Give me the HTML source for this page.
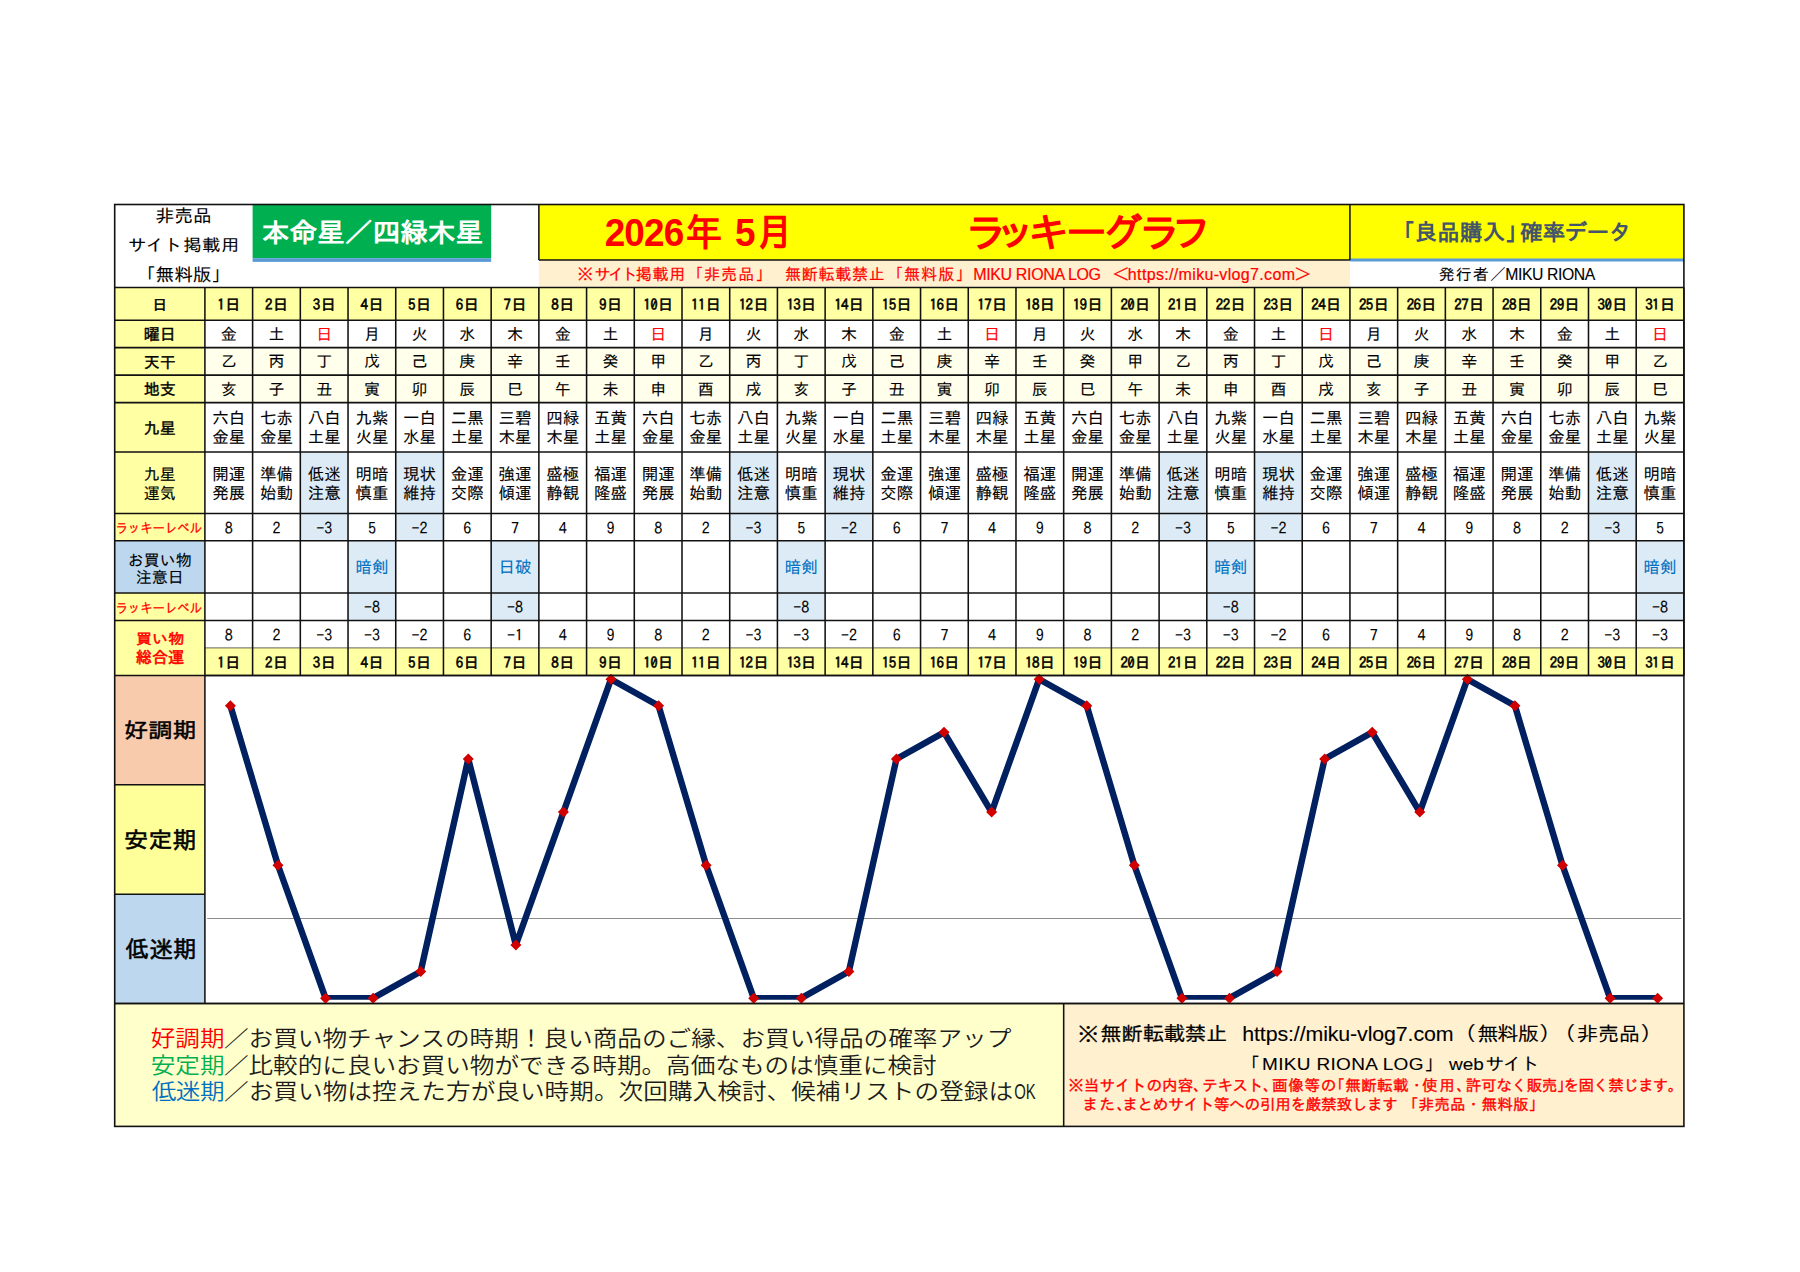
<!DOCTYPE html>
<html lang="ja">
<head>
<meta charset="utf-8">
<title>2026年 5月 ラッキーグラフ</title>
<style>
html,body{margin:0;padding:0;background:#fff;}
svg{display:block;}
text{font-family:"Liberation Sans","IPAGothic",sans-serif;white-space:pre;}
.rf{font-family:"Liberation Sans","Noto Sans CJK JP",sans-serif;font-weight:350;}
.n{font-family:"IPAGothic","Liberation Sans",sans-serif;}
</style>
</head>
<body>
<svg width="1800" height="1272" viewBox="0 0 1800 1272" xml:space="preserve">
<rect x="252.61" y="204.50" width="238.55" height="53.70" fill="#00b050"/>
<rect x="252.61" y="258.20" width="238.55" height="3.70" fill="#5b9bd5"/>
<rect x="538.87" y="204.50" width="1145.04" height="55.50" fill="#ffff00"/>
<rect x="538.87" y="260.00" width="811.07" height="27.40" fill="#fff0d0"/>
<rect x="1349.94" y="258.50" width="333.97" height="3.00" fill="#5b9bd5"/>
<rect x="114.70" y="287.40" width="90.20" height="253.40" fill="#ffffa3"/>
<rect x="114.70" y="540.80" width="90.20" height="52.10" fill="#bdd7ee"/>
<rect x="114.70" y="592.90" width="90.20" height="82.50" fill="#ffffa3"/>
<rect x="204.90" y="287.40" width="1479.01" height="32.90" fill="#ffffa3"/>
<rect x="204.90" y="347.60" width="1479.01" height="55.00" fill="#ffffeb"/>
<rect x="204.90" y="647.90" width="1479.01" height="27.50" fill="#ffffa3"/>
<rect x="114.70" y="675.40" width="90.20" height="109.40" fill="#f8cbad"/>
<rect x="114.70" y="784.80" width="90.20" height="109.50" fill="#ffff99"/>
<rect x="114.70" y="894.30" width="90.20" height="109.10" fill="#bdd7ee"/>
<rect x="114.70" y="1003.40" width="948.98" height="123.00" fill="#ffffcc"/>
<rect x="1063.68" y="1003.40" width="620.23" height="123.00" fill="#fff0d0"/>
<rect x="300.32" y="451.90" width="47.71" height="88.90" fill="#ddebf7"/>
<rect x="348.03" y="540.80" width="47.71" height="79.60" fill="#ddebf7"/>
<rect x="395.74" y="451.90" width="47.71" height="88.90" fill="#ddebf7"/>
<rect x="491.16" y="540.80" width="47.71" height="79.60" fill="#ddebf7"/>
<rect x="729.71" y="451.90" width="47.71" height="88.90" fill="#ddebf7"/>
<rect x="777.42" y="540.80" width="47.71" height="79.60" fill="#ddebf7"/>
<rect x="825.13" y="451.90" width="47.71" height="88.90" fill="#ddebf7"/>
<rect x="1159.10" y="451.90" width="47.71" height="88.90" fill="#ddebf7"/>
<rect x="1206.81" y="540.80" width="47.71" height="79.60" fill="#ddebf7"/>
<rect x="1254.52" y="451.90" width="47.71" height="88.90" fill="#ddebf7"/>
<rect x="1588.49" y="451.90" width="47.71" height="88.90" fill="#ddebf7"/>
<rect x="1636.20" y="540.80" width="47.71" height="79.60" fill="#ddebf7"/>
<line x1="114.70" y1="287.40" x2="1683.91" y2="287.40" stroke="#111" stroke-width="1.55"/>
<line x1="114.70" y1="320.30" x2="1683.91" y2="320.30" stroke="#111" stroke-width="1.55"/>
<line x1="114.70" y1="347.60" x2="1683.91" y2="347.60" stroke="#111" stroke-width="1.55"/>
<line x1="114.70" y1="375.10" x2="1683.91" y2="375.10" stroke="#111" stroke-width="1.55"/>
<line x1="114.70" y1="402.60" x2="1683.91" y2="402.60" stroke="#111" stroke-width="1.55"/>
<line x1="114.70" y1="451.90" x2="1683.91" y2="451.90" stroke="#111" stroke-width="1.55"/>
<line x1="114.70" y1="513.50" x2="1683.91" y2="513.50" stroke="#111" stroke-width="1.55"/>
<line x1="114.70" y1="540.80" x2="1683.91" y2="540.80" stroke="#111" stroke-width="1.55"/>
<line x1="114.70" y1="592.90" x2="1683.91" y2="592.90" stroke="#111" stroke-width="1.55"/>
<line x1="114.70" y1="620.40" x2="1683.91" y2="620.40" stroke="#111" stroke-width="1.55"/>
<line x1="114.70" y1="675.40" x2="1683.91" y2="675.40" stroke="#111" stroke-width="1.55"/>
<line x1="204.90" y1="287.40" x2="204.90" y2="675.40" stroke="#111" stroke-width="1.55"/>
<line x1="252.61" y1="287.40" x2="252.61" y2="675.40" stroke="#111" stroke-width="1.55"/>
<line x1="300.32" y1="287.40" x2="300.32" y2="675.40" stroke="#111" stroke-width="1.55"/>
<line x1="348.03" y1="287.40" x2="348.03" y2="675.40" stroke="#111" stroke-width="1.55"/>
<line x1="395.74" y1="287.40" x2="395.74" y2="675.40" stroke="#111" stroke-width="1.55"/>
<line x1="443.45" y1="287.40" x2="443.45" y2="675.40" stroke="#111" stroke-width="1.55"/>
<line x1="491.16" y1="287.40" x2="491.16" y2="675.40" stroke="#111" stroke-width="1.55"/>
<line x1="538.87" y1="287.40" x2="538.87" y2="675.40" stroke="#111" stroke-width="1.55"/>
<line x1="586.58" y1="287.40" x2="586.58" y2="675.40" stroke="#111" stroke-width="1.55"/>
<line x1="634.29" y1="287.40" x2="634.29" y2="675.40" stroke="#111" stroke-width="1.55"/>
<line x1="682.00" y1="287.40" x2="682.00" y2="675.40" stroke="#111" stroke-width="1.55"/>
<line x1="729.71" y1="287.40" x2="729.71" y2="675.40" stroke="#111" stroke-width="1.55"/>
<line x1="777.42" y1="287.40" x2="777.42" y2="675.40" stroke="#111" stroke-width="1.55"/>
<line x1="825.13" y1="287.40" x2="825.13" y2="675.40" stroke="#111" stroke-width="1.55"/>
<line x1="872.84" y1="287.40" x2="872.84" y2="675.40" stroke="#111" stroke-width="1.55"/>
<line x1="920.55" y1="287.40" x2="920.55" y2="675.40" stroke="#111" stroke-width="1.55"/>
<line x1="968.26" y1="287.40" x2="968.26" y2="675.40" stroke="#111" stroke-width="1.55"/>
<line x1="1015.97" y1="287.40" x2="1015.97" y2="675.40" stroke="#111" stroke-width="1.55"/>
<line x1="1063.68" y1="287.40" x2="1063.68" y2="675.40" stroke="#111" stroke-width="1.55"/>
<line x1="1111.39" y1="287.40" x2="1111.39" y2="675.40" stroke="#111" stroke-width="1.55"/>
<line x1="1159.10" y1="287.40" x2="1159.10" y2="675.40" stroke="#111" stroke-width="1.55"/>
<line x1="1206.81" y1="287.40" x2="1206.81" y2="675.40" stroke="#111" stroke-width="1.55"/>
<line x1="1254.52" y1="287.40" x2="1254.52" y2="675.40" stroke="#111" stroke-width="1.55"/>
<line x1="1302.23" y1="287.40" x2="1302.23" y2="675.40" stroke="#111" stroke-width="1.55"/>
<line x1="1349.94" y1="287.40" x2="1349.94" y2="675.40" stroke="#111" stroke-width="1.55"/>
<line x1="1397.65" y1="287.40" x2="1397.65" y2="675.40" stroke="#111" stroke-width="1.55"/>
<line x1="1445.36" y1="287.40" x2="1445.36" y2="675.40" stroke="#111" stroke-width="1.55"/>
<line x1="1493.07" y1="287.40" x2="1493.07" y2="675.40" stroke="#111" stroke-width="1.55"/>
<line x1="1540.78" y1="287.40" x2="1540.78" y2="675.40" stroke="#111" stroke-width="1.55"/>
<line x1="1588.49" y1="287.40" x2="1588.49" y2="675.40" stroke="#111" stroke-width="1.55"/>
<line x1="1636.20" y1="287.40" x2="1636.20" y2="675.40" stroke="#111" stroke-width="1.55"/>
<line x1="1683.91" y1="287.40" x2="1683.91" y2="675.40" stroke="#111" stroke-width="1.55"/>
<line x1="204.90" y1="647.90" x2="1683.91" y2="647.90" stroke="#222" stroke-width="0.7"/>
<line x1="114.70" y1="784.80" x2="204.90" y2="784.80" stroke="#111" stroke-width="1.55"/>
<line x1="114.70" y1="894.30" x2="204.90" y2="894.30" stroke="#111" stroke-width="1.55"/>
<line x1="204.90" y1="675.40" x2="204.90" y2="1003.40" stroke="#111" stroke-width="1.55"/>
<line x1="114.70" y1="1003.40" x2="1683.91" y2="1003.40" stroke="#111" stroke-width="1.55"/>
<line x1="1063.68" y1="1003.40" x2="1063.68" y2="1126.40" stroke="#111" stroke-width="1.55"/>
<line x1="538.87" y1="204.50" x2="538.87" y2="260.00" stroke="#111" stroke-width="1.55"/>
<line x1="538.87" y1="260.00" x2="1349.94" y2="260.00" stroke="#111" stroke-width="1.55"/>
<line x1="1349.94" y1="204.50" x2="1349.94" y2="260.00" stroke="#111" stroke-width="1.55"/>
<rect x="114.70" y="204.50" width="1569.21" height="921.90" fill="none" stroke="#111" stroke-width="1.6"/>
<line x1="207.20" y1="918.50" x2="1681.30" y2="918.50" stroke="#8c8c8c" stroke-width="1.2"/>
<clipPath id="pc"><rect x="205" y="676" width="1478" height="323.8"/></clipPath>
<polyline points="230.40,705.76 277.98,865.24 325.55,998.14 373.12,998.14 420.70,971.56 468.27,758.92 515.85,944.98 563.43,812.08 611.00,679.18 658.58,705.76 706.15,865.24 753.73,998.14 801.30,998.14 848.88,971.56 896.45,758.92 944.02,732.34 991.60,812.08 1039.18,679.18 1086.75,705.76 1134.33,865.24 1181.90,998.14 1229.48,998.14 1277.05,971.56 1324.63,758.92 1372.20,732.34 1419.78,812.08 1467.35,679.18 1514.93,705.76 1562.50,865.24 1610.08,998.14 1657.65,998.14" fill="none" stroke="#002060" stroke-width="6.4" stroke-linejoin="round" clip-path="url(#pc)"/>
<path d="M230.40 700.26l5.5 5.5l-5.5 5.5l-5.5 -5.5zM277.98 859.74l5.5 5.5l-5.5 5.5l-5.5 -5.5zM325.55 992.64l5.5 5.5l-5.5 5.5l-5.5 -5.5zM373.12 992.64l5.5 5.5l-5.5 5.5l-5.5 -5.5zM420.70 966.06l5.5 5.5l-5.5 5.5l-5.5 -5.5zM468.27 753.42l5.5 5.5l-5.5 5.5l-5.5 -5.5zM515.85 939.48l5.5 5.5l-5.5 5.5l-5.5 -5.5zM563.43 806.58l5.5 5.5l-5.5 5.5l-5.5 -5.5zM611.00 673.68l5.5 5.5l-5.5 5.5l-5.5 -5.5zM658.58 700.26l5.5 5.5l-5.5 5.5l-5.5 -5.5zM706.15 859.74l5.5 5.5l-5.5 5.5l-5.5 -5.5zM753.73 992.64l5.5 5.5l-5.5 5.5l-5.5 -5.5zM801.30 992.64l5.5 5.5l-5.5 5.5l-5.5 -5.5zM848.88 966.06l5.5 5.5l-5.5 5.5l-5.5 -5.5zM896.45 753.42l5.5 5.5l-5.5 5.5l-5.5 -5.5zM944.02 726.84l5.5 5.5l-5.5 5.5l-5.5 -5.5zM991.60 806.58l5.5 5.5l-5.5 5.5l-5.5 -5.5zM1039.18 673.68l5.5 5.5l-5.5 5.5l-5.5 -5.5zM1086.75 700.26l5.5 5.5l-5.5 5.5l-5.5 -5.5zM1134.33 859.74l5.5 5.5l-5.5 5.5l-5.5 -5.5zM1181.90 992.64l5.5 5.5l-5.5 5.5l-5.5 -5.5zM1229.48 992.64l5.5 5.5l-5.5 5.5l-5.5 -5.5zM1277.05 966.06l5.5 5.5l-5.5 5.5l-5.5 -5.5zM1324.63 753.42l5.5 5.5l-5.5 5.5l-5.5 -5.5zM1372.20 726.84l5.5 5.5l-5.5 5.5l-5.5 -5.5zM1419.78 806.58l5.5 5.5l-5.5 5.5l-5.5 -5.5zM1467.35 673.68l5.5 5.5l-5.5 5.5l-5.5 -5.5zM1514.93 700.26l5.5 5.5l-5.5 5.5l-5.5 -5.5zM1562.50 859.74l5.5 5.5l-5.5 5.5l-5.5 -5.5zM1610.08 992.64l5.5 5.5l-5.5 5.5l-5.5 -5.5zM1657.65 992.64l5.5 5.5l-5.5 5.5l-5.5 -5.5z" fill="#d00000"/>
<line x1="114.70" y1="1003.40" x2="1683.91" y2="1003.40" stroke="#111" stroke-width="1.55"/>
<line x1="204.90" y1="675.40" x2="1683.91" y2="675.40" stroke="#111" stroke-width="1.55"/>
<text x="159.80" y="309.77" text-anchor="middle" font-size="14.5" stroke="#000" stroke-width="0.5">日</text>
<text x="159.80" y="340.21" text-anchor="middle" font-size="16" stroke="#000" stroke-width="0.4">曜日</text>
<text x="159.80" y="367.61" text-anchor="middle" font-size="16" stroke="#000" stroke-width="0.4">天干</text>
<text x="159.80" y="395.11" text-anchor="middle" font-size="16" stroke="#000" stroke-width="0.4">地支</text>
<text x="159.80" y="433.51" text-anchor="middle" font-size="16" stroke="#000" stroke-width="0.4">九星</text>
<text text-anchor="middle" font-size="16" stroke="#000" stroke-width="0.1"><tspan x="159.80" y="479.76">九星</tspan><tspan x="159.80" y="499.16">運気</tspan></text>
<text text-anchor="middle" font-size="16" stroke="#000" stroke-width="0.1"><tspan x="159.80" y="565.56">お買い物</tspan><tspan x="159.80" y="583.06">注意日</tspan></text>
<text class="n" x="228.75" y="309.95" text-anchor="middle" font-size="15" stroke="#000" stroke-width="0.55" dx="0 0.5">1日</text>
<text class="n" x="276.47" y="309.95" text-anchor="middle" font-size="15" stroke="#000" stroke-width="0.55" dx="0 0.5">2日</text>
<text class="n" x="324.18" y="309.95" text-anchor="middle" font-size="15" stroke="#000" stroke-width="0.55" dx="0 0.5">3日</text>
<text class="n" x="371.88" y="309.95" text-anchor="middle" font-size="15" stroke="#000" stroke-width="0.55" dx="0 0.5">4日</text>
<text class="n" x="419.60" y="309.95" text-anchor="middle" font-size="15" stroke="#000" stroke-width="0.55" dx="0 0.5">5日</text>
<text class="n" x="467.31" y="309.95" text-anchor="middle" font-size="15" stroke="#000" stroke-width="0.55" dx="0 0.5">6日</text>
<text class="n" x="515.01" y="309.95" text-anchor="middle" font-size="15" stroke="#000" stroke-width="0.55" dx="0 0.5">7日</text>
<text class="n" x="562.73" y="309.95" text-anchor="middle" font-size="15" stroke="#000" stroke-width="0.55" dx="0 0.5">8日</text>
<text class="n" x="610.44" y="309.95" text-anchor="middle" font-size="15" stroke="#000" stroke-width="0.55" dx="0 0.5">9日</text>
<text class="n" x="658.14" y="309.95" text-anchor="middle" font-size="15" stroke="#000" stroke-width="0.55" dx="0 -0.6 0.3">10日</text>
<text class="n" x="705.86" y="309.95" text-anchor="middle" font-size="15" stroke="#000" stroke-width="0.55" dx="0 -0.6 0.3">11日</text>
<text class="n" x="753.57" y="309.95" text-anchor="middle" font-size="15" stroke="#000" stroke-width="0.55" dx="0 -0.6 0.3">12日</text>
<text class="n" x="801.27" y="309.95" text-anchor="middle" font-size="15" stroke="#000" stroke-width="0.55" dx="0 -0.6 0.3">13日</text>
<text class="n" x="848.99" y="309.95" text-anchor="middle" font-size="15" stroke="#000" stroke-width="0.55" dx="0 -0.6 0.3">14日</text>
<text class="n" x="896.70" y="309.95" text-anchor="middle" font-size="15" stroke="#000" stroke-width="0.55" dx="0 -0.6 0.3">15日</text>
<text class="n" x="944.40" y="309.95" text-anchor="middle" font-size="15" stroke="#000" stroke-width="0.55" dx="0 -0.6 0.3">16日</text>
<text class="n" x="992.12" y="309.95" text-anchor="middle" font-size="15" stroke="#000" stroke-width="0.55" dx="0 -0.6 0.3">17日</text>
<text class="n" x="1039.83" y="309.95" text-anchor="middle" font-size="15" stroke="#000" stroke-width="0.55" dx="0 -0.6 0.3">18日</text>
<text class="n" x="1087.54" y="309.95" text-anchor="middle" font-size="15" stroke="#000" stroke-width="0.55" dx="0 -0.6 0.3">19日</text>
<text class="n" x="1135.25" y="309.95" text-anchor="middle" font-size="15" stroke="#000" stroke-width="0.55" dx="0 -0.6 0.3">20日</text>
<text class="n" x="1182.96" y="309.95" text-anchor="middle" font-size="15" stroke="#000" stroke-width="0.55" dx="0 -0.6 0.3">21日</text>
<text class="n" x="1230.66" y="309.95" text-anchor="middle" font-size="15" stroke="#000" stroke-width="0.55" dx="0 -0.6 0.3">22日</text>
<text class="n" x="1278.38" y="309.95" text-anchor="middle" font-size="15" stroke="#000" stroke-width="0.55" dx="0 -0.6 0.3">23日</text>
<text class="n" x="1326.09" y="309.95" text-anchor="middle" font-size="15" stroke="#000" stroke-width="0.55" dx="0 -0.6 0.3">24日</text>
<text class="n" x="1373.80" y="309.95" text-anchor="middle" font-size="15" stroke="#000" stroke-width="0.55" dx="0 -0.6 0.3">25日</text>
<text class="n" x="1421.51" y="309.95" text-anchor="middle" font-size="15" stroke="#000" stroke-width="0.55" dx="0 -0.6 0.3">26日</text>
<text class="n" x="1469.22" y="309.95" text-anchor="middle" font-size="15" stroke="#000" stroke-width="0.55" dx="0 -0.6 0.3">27日</text>
<text class="n" x="1516.93" y="309.95" text-anchor="middle" font-size="15" stroke="#000" stroke-width="0.55" dx="0 -0.6 0.3">28日</text>
<text class="n" x="1564.64" y="309.95" text-anchor="middle" font-size="15" stroke="#000" stroke-width="0.55" dx="0 -0.6 0.3">29日</text>
<text class="n" x="1612.35" y="309.95" text-anchor="middle" font-size="15" stroke="#000" stroke-width="0.55" dx="0 -0.6 0.3">30日</text>
<text class="n" x="1660.06" y="309.95" text-anchor="middle" font-size="15" stroke="#000" stroke-width="0.55" dx="0 -0.6 0.3">31日</text>
<text x="228.75" y="340.01" text-anchor="middle" font-size="16" stroke="#000" stroke-width="0.1">金</text>
<text x="276.47" y="340.01" text-anchor="middle" font-size="16" stroke="#000" stroke-width="0.1">土</text>
<text x="324.18" y="340.01" text-anchor="middle" font-size="16" fill="#ff0000" stroke="#ff0000" stroke-width="0.1">日</text>
<text x="371.88" y="340.01" text-anchor="middle" font-size="16" stroke="#000" stroke-width="0.1">月</text>
<text x="419.60" y="340.01" text-anchor="middle" font-size="16" stroke="#000" stroke-width="0.1">火</text>
<text x="467.31" y="340.01" text-anchor="middle" font-size="16" stroke="#000" stroke-width="0.1">水</text>
<text x="515.01" y="340.01" text-anchor="middle" font-size="16" stroke="#000" stroke-width="0.1">木</text>
<text x="562.73" y="340.01" text-anchor="middle" font-size="16" stroke="#000" stroke-width="0.1">金</text>
<text x="610.44" y="340.01" text-anchor="middle" font-size="16" stroke="#000" stroke-width="0.1">土</text>
<text x="658.14" y="340.01" text-anchor="middle" font-size="16" fill="#ff0000" stroke="#ff0000" stroke-width="0.1">日</text>
<text x="705.86" y="340.01" text-anchor="middle" font-size="16" stroke="#000" stroke-width="0.1">月</text>
<text x="753.57" y="340.01" text-anchor="middle" font-size="16" stroke="#000" stroke-width="0.1">火</text>
<text x="801.27" y="340.01" text-anchor="middle" font-size="16" stroke="#000" stroke-width="0.1">水</text>
<text x="848.99" y="340.01" text-anchor="middle" font-size="16" stroke="#000" stroke-width="0.1">木</text>
<text x="896.70" y="340.01" text-anchor="middle" font-size="16" stroke="#000" stroke-width="0.1">金</text>
<text x="944.40" y="340.01" text-anchor="middle" font-size="16" stroke="#000" stroke-width="0.1">土</text>
<text x="992.12" y="340.01" text-anchor="middle" font-size="16" fill="#ff0000" stroke="#ff0000" stroke-width="0.1">日</text>
<text x="1039.83" y="340.01" text-anchor="middle" font-size="16" stroke="#000" stroke-width="0.1">月</text>
<text x="1087.54" y="340.01" text-anchor="middle" font-size="16" stroke="#000" stroke-width="0.1">火</text>
<text x="1135.25" y="340.01" text-anchor="middle" font-size="16" stroke="#000" stroke-width="0.1">水</text>
<text x="1182.96" y="340.01" text-anchor="middle" font-size="16" stroke="#000" stroke-width="0.1">木</text>
<text x="1230.66" y="340.01" text-anchor="middle" font-size="16" stroke="#000" stroke-width="0.1">金</text>
<text x="1278.38" y="340.01" text-anchor="middle" font-size="16" stroke="#000" stroke-width="0.1">土</text>
<text x="1326.09" y="340.01" text-anchor="middle" font-size="16" fill="#ff0000" stroke="#ff0000" stroke-width="0.1">日</text>
<text x="1373.80" y="340.01" text-anchor="middle" font-size="16" stroke="#000" stroke-width="0.1">月</text>
<text x="1421.51" y="340.01" text-anchor="middle" font-size="16" stroke="#000" stroke-width="0.1">火</text>
<text x="1469.22" y="340.01" text-anchor="middle" font-size="16" stroke="#000" stroke-width="0.1">水</text>
<text x="1516.93" y="340.01" text-anchor="middle" font-size="16" stroke="#000" stroke-width="0.1">木</text>
<text x="1564.64" y="340.01" text-anchor="middle" font-size="16" stroke="#000" stroke-width="0.1">金</text>
<text x="1612.35" y="340.01" text-anchor="middle" font-size="16" stroke="#000" stroke-width="0.1">土</text>
<text x="1660.06" y="340.01" text-anchor="middle" font-size="16" fill="#ff0000" stroke="#ff0000" stroke-width="0.1">日</text>
<text x="228.75" y="367.41" text-anchor="middle" font-size="16" stroke="#000" stroke-width="0.1">乙</text>
<text x="276.47" y="367.41" text-anchor="middle" font-size="16" stroke="#000" stroke-width="0.1">丙</text>
<text x="324.18" y="367.41" text-anchor="middle" font-size="16" stroke="#000" stroke-width="0.1">丁</text>
<text x="371.88" y="367.41" text-anchor="middle" font-size="16" stroke="#000" stroke-width="0.1">戊</text>
<text x="419.60" y="367.41" text-anchor="middle" font-size="16" stroke="#000" stroke-width="0.1">己</text>
<text x="467.31" y="367.41" text-anchor="middle" font-size="16" stroke="#000" stroke-width="0.1">庚</text>
<text x="515.01" y="367.41" text-anchor="middle" font-size="16" stroke="#000" stroke-width="0.1">辛</text>
<text x="562.73" y="367.41" text-anchor="middle" font-size="16" stroke="#000" stroke-width="0.1">壬</text>
<text x="610.44" y="367.41" text-anchor="middle" font-size="16" stroke="#000" stroke-width="0.1">癸</text>
<text x="658.14" y="367.41" text-anchor="middle" font-size="16" stroke="#000" stroke-width="0.1">甲</text>
<text x="705.86" y="367.41" text-anchor="middle" font-size="16" stroke="#000" stroke-width="0.1">乙</text>
<text x="753.57" y="367.41" text-anchor="middle" font-size="16" stroke="#000" stroke-width="0.1">丙</text>
<text x="801.27" y="367.41" text-anchor="middle" font-size="16" stroke="#000" stroke-width="0.1">丁</text>
<text x="848.99" y="367.41" text-anchor="middle" font-size="16" stroke="#000" stroke-width="0.1">戊</text>
<text x="896.70" y="367.41" text-anchor="middle" font-size="16" stroke="#000" stroke-width="0.1">己</text>
<text x="944.40" y="367.41" text-anchor="middle" font-size="16" stroke="#000" stroke-width="0.1">庚</text>
<text x="992.12" y="367.41" text-anchor="middle" font-size="16" stroke="#000" stroke-width="0.1">辛</text>
<text x="1039.83" y="367.41" text-anchor="middle" font-size="16" stroke="#000" stroke-width="0.1">壬</text>
<text x="1087.54" y="367.41" text-anchor="middle" font-size="16" stroke="#000" stroke-width="0.1">癸</text>
<text x="1135.25" y="367.41" text-anchor="middle" font-size="16" stroke="#000" stroke-width="0.1">甲</text>
<text x="1182.96" y="367.41" text-anchor="middle" font-size="16" stroke="#000" stroke-width="0.1">乙</text>
<text x="1230.66" y="367.41" text-anchor="middle" font-size="16" stroke="#000" stroke-width="0.1">丙</text>
<text x="1278.38" y="367.41" text-anchor="middle" font-size="16" stroke="#000" stroke-width="0.1">丁</text>
<text x="1326.09" y="367.41" text-anchor="middle" font-size="16" stroke="#000" stroke-width="0.1">戊</text>
<text x="1373.80" y="367.41" text-anchor="middle" font-size="16" stroke="#000" stroke-width="0.1">己</text>
<text x="1421.51" y="367.41" text-anchor="middle" font-size="16" stroke="#000" stroke-width="0.1">庚</text>
<text x="1469.22" y="367.41" text-anchor="middle" font-size="16" stroke="#000" stroke-width="0.1">辛</text>
<text x="1516.93" y="367.41" text-anchor="middle" font-size="16" stroke="#000" stroke-width="0.1">壬</text>
<text x="1564.64" y="367.41" text-anchor="middle" font-size="16" stroke="#000" stroke-width="0.1">癸</text>
<text x="1612.35" y="367.41" text-anchor="middle" font-size="16" stroke="#000" stroke-width="0.1">甲</text>
<text x="1660.06" y="367.41" text-anchor="middle" font-size="16" stroke="#000" stroke-width="0.1">乙</text>
<text x="228.75" y="394.91" text-anchor="middle" font-size="16" stroke="#000" stroke-width="0.1">亥</text>
<text x="276.47" y="394.91" text-anchor="middle" font-size="16" stroke="#000" stroke-width="0.1">子</text>
<text x="324.18" y="394.91" text-anchor="middle" font-size="16" stroke="#000" stroke-width="0.1">丑</text>
<text x="371.88" y="394.91" text-anchor="middle" font-size="16" stroke="#000" stroke-width="0.1">寅</text>
<text x="419.60" y="394.91" text-anchor="middle" font-size="16" stroke="#000" stroke-width="0.1">卯</text>
<text x="467.31" y="394.91" text-anchor="middle" font-size="16" stroke="#000" stroke-width="0.1">辰</text>
<text x="515.01" y="394.91" text-anchor="middle" font-size="16" stroke="#000" stroke-width="0.1">巳</text>
<text x="562.73" y="394.91" text-anchor="middle" font-size="16" stroke="#000" stroke-width="0.1">午</text>
<text x="610.44" y="394.91" text-anchor="middle" font-size="16" stroke="#000" stroke-width="0.1">未</text>
<text x="658.14" y="394.91" text-anchor="middle" font-size="16" stroke="#000" stroke-width="0.1">申</text>
<text x="705.86" y="394.91" text-anchor="middle" font-size="16" stroke="#000" stroke-width="0.1">酉</text>
<text x="753.57" y="394.91" text-anchor="middle" font-size="16" stroke="#000" stroke-width="0.1">戌</text>
<text x="801.27" y="394.91" text-anchor="middle" font-size="16" stroke="#000" stroke-width="0.1">亥</text>
<text x="848.99" y="394.91" text-anchor="middle" font-size="16" stroke="#000" stroke-width="0.1">子</text>
<text x="896.70" y="394.91" text-anchor="middle" font-size="16" stroke="#000" stroke-width="0.1">丑</text>
<text x="944.40" y="394.91" text-anchor="middle" font-size="16" stroke="#000" stroke-width="0.1">寅</text>
<text x="992.12" y="394.91" text-anchor="middle" font-size="16" stroke="#000" stroke-width="0.1">卯</text>
<text x="1039.83" y="394.91" text-anchor="middle" font-size="16" stroke="#000" stroke-width="0.1">辰</text>
<text x="1087.54" y="394.91" text-anchor="middle" font-size="16" stroke="#000" stroke-width="0.1">巳</text>
<text x="1135.25" y="394.91" text-anchor="middle" font-size="16" stroke="#000" stroke-width="0.1">午</text>
<text x="1182.96" y="394.91" text-anchor="middle" font-size="16" stroke="#000" stroke-width="0.1">未</text>
<text x="1230.66" y="394.91" text-anchor="middle" font-size="16" stroke="#000" stroke-width="0.1">申</text>
<text x="1278.38" y="394.91" text-anchor="middle" font-size="16" stroke="#000" stroke-width="0.1">酉</text>
<text x="1326.09" y="394.91" text-anchor="middle" font-size="16" stroke="#000" stroke-width="0.1">戌</text>
<text x="1373.80" y="394.91" text-anchor="middle" font-size="16" stroke="#000" stroke-width="0.1">亥</text>
<text x="1421.51" y="394.91" text-anchor="middle" font-size="16" stroke="#000" stroke-width="0.1">子</text>
<text x="1469.22" y="394.91" text-anchor="middle" font-size="16" stroke="#000" stroke-width="0.1">丑</text>
<text x="1516.93" y="394.91" text-anchor="middle" font-size="16" stroke="#000" stroke-width="0.1">寅</text>
<text x="1564.64" y="394.91" text-anchor="middle" font-size="16" stroke="#000" stroke-width="0.1">卯</text>
<text x="1612.35" y="394.91" text-anchor="middle" font-size="16" stroke="#000" stroke-width="0.1">辰</text>
<text x="1660.06" y="394.91" text-anchor="middle" font-size="16" stroke="#000" stroke-width="0.1">巳</text>
<text text-anchor="middle" font-size="16.5" stroke="#000" stroke-width="0.1"><tspan x="228.75" y="424.14">六白</tspan><tspan x="228.75" y="443.04">金星</tspan></text>
<text text-anchor="middle" font-size="16.5" stroke="#000" stroke-width="0.1"><tspan x="276.47" y="424.14">七赤</tspan><tspan x="276.47" y="443.04">金星</tspan></text>
<text text-anchor="middle" font-size="16.5" stroke="#000" stroke-width="0.1"><tspan x="324.18" y="424.14">八白</tspan><tspan x="324.18" y="443.04">土星</tspan></text>
<text text-anchor="middle" font-size="16.5" stroke="#000" stroke-width="0.1"><tspan x="371.88" y="424.14">九紫</tspan><tspan x="371.88" y="443.04">火星</tspan></text>
<text text-anchor="middle" font-size="16.5" stroke="#000" stroke-width="0.1"><tspan x="419.60" y="424.14">一白</tspan><tspan x="419.60" y="443.04">水星</tspan></text>
<text text-anchor="middle" font-size="16.5" stroke="#000" stroke-width="0.1"><tspan x="467.31" y="424.14">二黒</tspan><tspan x="467.31" y="443.04">土星</tspan></text>
<text text-anchor="middle" font-size="16.5" stroke="#000" stroke-width="0.1"><tspan x="515.01" y="424.14">三碧</tspan><tspan x="515.01" y="443.04">木星</tspan></text>
<text text-anchor="middle" font-size="16.5" stroke="#000" stroke-width="0.1"><tspan x="562.73" y="424.14">四緑</tspan><tspan x="562.73" y="443.04">木星</tspan></text>
<text text-anchor="middle" font-size="16.5" stroke="#000" stroke-width="0.1"><tspan x="610.44" y="424.14">五黄</tspan><tspan x="610.44" y="443.04">土星</tspan></text>
<text text-anchor="middle" font-size="16.5" stroke="#000" stroke-width="0.1"><tspan x="658.14" y="424.14">六白</tspan><tspan x="658.14" y="443.04">金星</tspan></text>
<text text-anchor="middle" font-size="16.5" stroke="#000" stroke-width="0.1"><tspan x="705.86" y="424.14">七赤</tspan><tspan x="705.86" y="443.04">金星</tspan></text>
<text text-anchor="middle" font-size="16.5" stroke="#000" stroke-width="0.1"><tspan x="753.57" y="424.14">八白</tspan><tspan x="753.57" y="443.04">土星</tspan></text>
<text text-anchor="middle" font-size="16.5" stroke="#000" stroke-width="0.1"><tspan x="801.27" y="424.14">九紫</tspan><tspan x="801.27" y="443.04">火星</tspan></text>
<text text-anchor="middle" font-size="16.5" stroke="#000" stroke-width="0.1"><tspan x="848.99" y="424.14">一白</tspan><tspan x="848.99" y="443.04">水星</tspan></text>
<text text-anchor="middle" font-size="16.5" stroke="#000" stroke-width="0.1"><tspan x="896.70" y="424.14">二黒</tspan><tspan x="896.70" y="443.04">土星</tspan></text>
<text text-anchor="middle" font-size="16.5" stroke="#000" stroke-width="0.1"><tspan x="944.40" y="424.14">三碧</tspan><tspan x="944.40" y="443.04">木星</tspan></text>
<text text-anchor="middle" font-size="16.5" stroke="#000" stroke-width="0.1"><tspan x="992.12" y="424.14">四緑</tspan><tspan x="992.12" y="443.04">木星</tspan></text>
<text text-anchor="middle" font-size="16.5" stroke="#000" stroke-width="0.1"><tspan x="1039.83" y="424.14">五黄</tspan><tspan x="1039.83" y="443.04">土星</tspan></text>
<text text-anchor="middle" font-size="16.5" stroke="#000" stroke-width="0.1"><tspan x="1087.54" y="424.14">六白</tspan><tspan x="1087.54" y="443.04">金星</tspan></text>
<text text-anchor="middle" font-size="16.5" stroke="#000" stroke-width="0.1"><tspan x="1135.25" y="424.14">七赤</tspan><tspan x="1135.25" y="443.04">金星</tspan></text>
<text text-anchor="middle" font-size="16.5" stroke="#000" stroke-width="0.1"><tspan x="1182.96" y="424.14">八白</tspan><tspan x="1182.96" y="443.04">土星</tspan></text>
<text text-anchor="middle" font-size="16.5" stroke="#000" stroke-width="0.1"><tspan x="1230.66" y="424.14">九紫</tspan><tspan x="1230.66" y="443.04">火星</tspan></text>
<text text-anchor="middle" font-size="16.5" stroke="#000" stroke-width="0.1"><tspan x="1278.38" y="424.14">一白</tspan><tspan x="1278.38" y="443.04">水星</tspan></text>
<text text-anchor="middle" font-size="16.5" stroke="#000" stroke-width="0.1"><tspan x="1326.09" y="424.14">二黒</tspan><tspan x="1326.09" y="443.04">土星</tspan></text>
<text text-anchor="middle" font-size="16.5" stroke="#000" stroke-width="0.1"><tspan x="1373.80" y="424.14">三碧</tspan><tspan x="1373.80" y="443.04">木星</tspan></text>
<text text-anchor="middle" font-size="16.5" stroke="#000" stroke-width="0.1"><tspan x="1421.51" y="424.14">四緑</tspan><tspan x="1421.51" y="443.04">木星</tspan></text>
<text text-anchor="middle" font-size="16.5" stroke="#000" stroke-width="0.1"><tspan x="1469.22" y="424.14">五黄</tspan><tspan x="1469.22" y="443.04">土星</tspan></text>
<text text-anchor="middle" font-size="16.5" stroke="#000" stroke-width="0.1"><tspan x="1516.93" y="424.14">六白</tspan><tspan x="1516.93" y="443.04">金星</tspan></text>
<text text-anchor="middle" font-size="16.5" stroke="#000" stroke-width="0.1"><tspan x="1564.64" y="424.14">七赤</tspan><tspan x="1564.64" y="443.04">金星</tspan></text>
<text text-anchor="middle" font-size="16.5" stroke="#000" stroke-width="0.1"><tspan x="1612.35" y="424.14">八白</tspan><tspan x="1612.35" y="443.04">土星</tspan></text>
<text text-anchor="middle" font-size="16.5" stroke="#000" stroke-width="0.1"><tspan x="1660.06" y="424.14">九紫</tspan><tspan x="1660.06" y="443.04">火星</tspan></text>
<text text-anchor="middle" font-size="16.5" stroke="#000" stroke-width="0.1"><tspan x="228.75" y="480.14">開運</tspan><tspan x="228.75" y="499.14">発展</tspan></text>
<text text-anchor="middle" font-size="16.5" stroke="#000" stroke-width="0.1"><tspan x="276.47" y="480.14">準備</tspan><tspan x="276.47" y="499.14">始動</tspan></text>
<text text-anchor="middle" font-size="16.5" stroke="#000" stroke-width="0.1"><tspan x="324.18" y="480.14">低迷</tspan><tspan x="324.18" y="499.14">注意</tspan></text>
<text text-anchor="middle" font-size="16.5" stroke="#000" stroke-width="0.1"><tspan x="371.88" y="480.14">明暗</tspan><tspan x="371.88" y="499.14">慎重</tspan></text>
<text text-anchor="middle" font-size="16.5" stroke="#000" stroke-width="0.1"><tspan x="419.60" y="480.14">現状</tspan><tspan x="419.60" y="499.14">維持</tspan></text>
<text text-anchor="middle" font-size="16.5" stroke="#000" stroke-width="0.1"><tspan x="467.31" y="480.14">金運</tspan><tspan x="467.31" y="499.14">交際</tspan></text>
<text text-anchor="middle" font-size="16.5" stroke="#000" stroke-width="0.1"><tspan x="515.01" y="480.14">強運</tspan><tspan x="515.01" y="499.14">傾運</tspan></text>
<text text-anchor="middle" font-size="16.5" stroke="#000" stroke-width="0.1"><tspan x="562.73" y="480.14">盛極</tspan><tspan x="562.73" y="499.14">静観</tspan></text>
<text text-anchor="middle" font-size="16.5" stroke="#000" stroke-width="0.1"><tspan x="610.44" y="480.14">福運</tspan><tspan x="610.44" y="499.14">隆盛</tspan></text>
<text text-anchor="middle" font-size="16.5" stroke="#000" stroke-width="0.1"><tspan x="658.14" y="480.14">開運</tspan><tspan x="658.14" y="499.14">発展</tspan></text>
<text text-anchor="middle" font-size="16.5" stroke="#000" stroke-width="0.1"><tspan x="705.86" y="480.14">準備</tspan><tspan x="705.86" y="499.14">始動</tspan></text>
<text text-anchor="middle" font-size="16.5" stroke="#000" stroke-width="0.1"><tspan x="753.57" y="480.14">低迷</tspan><tspan x="753.57" y="499.14">注意</tspan></text>
<text text-anchor="middle" font-size="16.5" stroke="#000" stroke-width="0.1"><tspan x="801.27" y="480.14">明暗</tspan><tspan x="801.27" y="499.14">慎重</tspan></text>
<text text-anchor="middle" font-size="16.5" stroke="#000" stroke-width="0.1"><tspan x="848.99" y="480.14">現状</tspan><tspan x="848.99" y="499.14">維持</tspan></text>
<text text-anchor="middle" font-size="16.5" stroke="#000" stroke-width="0.1"><tspan x="896.70" y="480.14">金運</tspan><tspan x="896.70" y="499.14">交際</tspan></text>
<text text-anchor="middle" font-size="16.5" stroke="#000" stroke-width="0.1"><tspan x="944.40" y="480.14">強運</tspan><tspan x="944.40" y="499.14">傾運</tspan></text>
<text text-anchor="middle" font-size="16.5" stroke="#000" stroke-width="0.1"><tspan x="992.12" y="480.14">盛極</tspan><tspan x="992.12" y="499.14">静観</tspan></text>
<text text-anchor="middle" font-size="16.5" stroke="#000" stroke-width="0.1"><tspan x="1039.83" y="480.14">福運</tspan><tspan x="1039.83" y="499.14">隆盛</tspan></text>
<text text-anchor="middle" font-size="16.5" stroke="#000" stroke-width="0.1"><tspan x="1087.54" y="480.14">開運</tspan><tspan x="1087.54" y="499.14">発展</tspan></text>
<text text-anchor="middle" font-size="16.5" stroke="#000" stroke-width="0.1"><tspan x="1135.25" y="480.14">準備</tspan><tspan x="1135.25" y="499.14">始動</tspan></text>
<text text-anchor="middle" font-size="16.5" stroke="#000" stroke-width="0.1"><tspan x="1182.96" y="480.14">低迷</tspan><tspan x="1182.96" y="499.14">注意</tspan></text>
<text text-anchor="middle" font-size="16.5" stroke="#000" stroke-width="0.1"><tspan x="1230.66" y="480.14">明暗</tspan><tspan x="1230.66" y="499.14">慎重</tspan></text>
<text text-anchor="middle" font-size="16.5" stroke="#000" stroke-width="0.1"><tspan x="1278.38" y="480.14">現状</tspan><tspan x="1278.38" y="499.14">維持</tspan></text>
<text text-anchor="middle" font-size="16.5" stroke="#000" stroke-width="0.1"><tspan x="1326.09" y="480.14">金運</tspan><tspan x="1326.09" y="499.14">交際</tspan></text>
<text text-anchor="middle" font-size="16.5" stroke="#000" stroke-width="0.1"><tspan x="1373.80" y="480.14">強運</tspan><tspan x="1373.80" y="499.14">傾運</tspan></text>
<text text-anchor="middle" font-size="16.5" stroke="#000" stroke-width="0.1"><tspan x="1421.51" y="480.14">盛極</tspan><tspan x="1421.51" y="499.14">静観</tspan></text>
<text text-anchor="middle" font-size="16.5" stroke="#000" stroke-width="0.1"><tspan x="1469.22" y="480.14">福運</tspan><tspan x="1469.22" y="499.14">隆盛</tspan></text>
<text text-anchor="middle" font-size="16.5" stroke="#000" stroke-width="0.1"><tspan x="1516.93" y="480.14">開運</tspan><tspan x="1516.93" y="499.14">発展</tspan></text>
<text text-anchor="middle" font-size="16.5" stroke="#000" stroke-width="0.1"><tspan x="1564.64" y="480.14">準備</tspan><tspan x="1564.64" y="499.14">始動</tspan></text>
<text text-anchor="middle" font-size="16.5" stroke="#000" stroke-width="0.1"><tspan x="1612.35" y="480.14">低迷</tspan><tspan x="1612.35" y="499.14">注意</tspan></text>
<text text-anchor="middle" font-size="16.5" stroke="#000" stroke-width="0.1"><tspan x="1660.06" y="480.14">明暗</tspan><tspan x="1660.06" y="499.14">慎重</tspan></text>
<text class="n" x="228.75" y="533.51" font-size="16" text-anchor="middle" stroke="#000" stroke-width="0.1">8</text>
<text class="n" x="276.47" y="533.51" font-size="16" text-anchor="middle" stroke="#000" stroke-width="0.1">2</text>
<text class="n" x="324.18" y="533.51" font-size="16" text-anchor="middle" stroke="#000" stroke-width="0.1">-3</text>
<text class="n" x="371.88" y="533.51" font-size="16" text-anchor="middle" stroke="#000" stroke-width="0.1">5</text>
<text class="n" x="419.60" y="533.51" font-size="16" text-anchor="middle" stroke="#000" stroke-width="0.1">-2</text>
<text class="n" x="467.31" y="533.51" font-size="16" text-anchor="middle" stroke="#000" stroke-width="0.1">6</text>
<text class="n" x="515.01" y="533.51" font-size="16" text-anchor="middle" stroke="#000" stroke-width="0.1">7</text>
<text class="n" x="562.73" y="533.51" font-size="16" text-anchor="middle" stroke="#000" stroke-width="0.1">4</text>
<text class="n" x="610.44" y="533.51" font-size="16" text-anchor="middle" stroke="#000" stroke-width="0.1">9</text>
<text class="n" x="658.14" y="533.51" font-size="16" text-anchor="middle" stroke="#000" stroke-width="0.1">8</text>
<text class="n" x="705.86" y="533.51" font-size="16" text-anchor="middle" stroke="#000" stroke-width="0.1">2</text>
<text class="n" x="753.57" y="533.51" font-size="16" text-anchor="middle" stroke="#000" stroke-width="0.1">-3</text>
<text class="n" x="801.27" y="533.51" font-size="16" text-anchor="middle" stroke="#000" stroke-width="0.1">5</text>
<text class="n" x="848.99" y="533.51" font-size="16" text-anchor="middle" stroke="#000" stroke-width="0.1">-2</text>
<text class="n" x="896.70" y="533.51" font-size="16" text-anchor="middle" stroke="#000" stroke-width="0.1">6</text>
<text class="n" x="944.40" y="533.51" font-size="16" text-anchor="middle" stroke="#000" stroke-width="0.1">7</text>
<text class="n" x="992.12" y="533.51" font-size="16" text-anchor="middle" stroke="#000" stroke-width="0.1">4</text>
<text class="n" x="1039.83" y="533.51" font-size="16" text-anchor="middle" stroke="#000" stroke-width="0.1">9</text>
<text class="n" x="1087.54" y="533.51" font-size="16" text-anchor="middle" stroke="#000" stroke-width="0.1">8</text>
<text class="n" x="1135.25" y="533.51" font-size="16" text-anchor="middle" stroke="#000" stroke-width="0.1">2</text>
<text class="n" x="1182.96" y="533.51" font-size="16" text-anchor="middle" stroke="#000" stroke-width="0.1">-3</text>
<text class="n" x="1230.66" y="533.51" font-size="16" text-anchor="middle" stroke="#000" stroke-width="0.1">5</text>
<text class="n" x="1278.38" y="533.51" font-size="16" text-anchor="middle" stroke="#000" stroke-width="0.1">-2</text>
<text class="n" x="1326.09" y="533.51" font-size="16" text-anchor="middle" stroke="#000" stroke-width="0.1">6</text>
<text class="n" x="1373.80" y="533.51" font-size="16" text-anchor="middle" stroke="#000" stroke-width="0.1">7</text>
<text class="n" x="1421.51" y="533.51" font-size="16" text-anchor="middle" stroke="#000" stroke-width="0.1">4</text>
<text class="n" x="1469.22" y="533.51" font-size="16" text-anchor="middle" stroke="#000" stroke-width="0.1">9</text>
<text class="n" x="1516.93" y="533.51" font-size="16" text-anchor="middle" stroke="#000" stroke-width="0.1">8</text>
<text class="n" x="1564.64" y="533.51" font-size="16" text-anchor="middle" stroke="#000" stroke-width="0.1">2</text>
<text class="n" x="1612.35" y="533.51" font-size="16" text-anchor="middle" stroke="#000" stroke-width="0.1">-3</text>
<text class="n" x="1660.06" y="533.51" font-size="16" text-anchor="middle" stroke="#000" stroke-width="0.1">5</text>
<text x="371.88" y="573.39" text-anchor="middle" font-size="16.5" fill="#0070c0" stroke="#0070c0" stroke-width="0.1">暗剣</text>
<text x="515.01" y="573.39" text-anchor="middle" font-size="16.5" fill="#0070c0" stroke="#0070c0" stroke-width="0.1">日破</text>
<text x="801.27" y="573.39" text-anchor="middle" font-size="16.5" fill="#0070c0" stroke="#0070c0" stroke-width="0.1">暗剣</text>
<text x="1230.66" y="573.39" text-anchor="middle" font-size="16.5" fill="#0070c0" stroke="#0070c0" stroke-width="0.1">暗剣</text>
<text x="1660.06" y="573.39" text-anchor="middle" font-size="16.5" fill="#0070c0" stroke="#0070c0" stroke-width="0.1">暗剣</text>
<text class="n" x="371.88" y="613.01" font-size="16" text-anchor="middle" stroke="#000" stroke-width="0.1">-8</text>
<text class="n" x="515.01" y="613.01" font-size="16" text-anchor="middle" stroke="#000" stroke-width="0.1">-8</text>
<text class="n" x="801.27" y="613.01" font-size="16" text-anchor="middle" stroke="#000" stroke-width="0.1">-8</text>
<text class="n" x="1230.66" y="613.01" font-size="16" text-anchor="middle" stroke="#000" stroke-width="0.1">-8</text>
<text class="n" x="1660.06" y="613.01" font-size="16" text-anchor="middle" stroke="#000" stroke-width="0.1">-8</text>
<text class="n" x="228.75" y="640.51" font-size="16" text-anchor="middle" stroke="#000" stroke-width="0.1">8</text>
<text class="n" x="276.47" y="640.51" font-size="16" text-anchor="middle" stroke="#000" stroke-width="0.1">2</text>
<text class="n" x="324.18" y="640.51" font-size="16" text-anchor="middle" stroke="#000" stroke-width="0.1">-3</text>
<text class="n" x="371.88" y="640.51" font-size="16" text-anchor="middle" stroke="#000" stroke-width="0.1">-3</text>
<text class="n" x="419.60" y="640.51" font-size="16" text-anchor="middle" stroke="#000" stroke-width="0.1">-2</text>
<text class="n" x="467.31" y="640.51" font-size="16" text-anchor="middle" stroke="#000" stroke-width="0.1">6</text>
<text class="n" x="515.01" y="640.51" font-size="16" text-anchor="middle" stroke="#000" stroke-width="0.1">-1</text>
<text class="n" x="562.73" y="640.51" font-size="16" text-anchor="middle" stroke="#000" stroke-width="0.1">4</text>
<text class="n" x="610.44" y="640.51" font-size="16" text-anchor="middle" stroke="#000" stroke-width="0.1">9</text>
<text class="n" x="658.14" y="640.51" font-size="16" text-anchor="middle" stroke="#000" stroke-width="0.1">8</text>
<text class="n" x="705.86" y="640.51" font-size="16" text-anchor="middle" stroke="#000" stroke-width="0.1">2</text>
<text class="n" x="753.57" y="640.51" font-size="16" text-anchor="middle" stroke="#000" stroke-width="0.1">-3</text>
<text class="n" x="801.27" y="640.51" font-size="16" text-anchor="middle" stroke="#000" stroke-width="0.1">-3</text>
<text class="n" x="848.99" y="640.51" font-size="16" text-anchor="middle" stroke="#000" stroke-width="0.1">-2</text>
<text class="n" x="896.70" y="640.51" font-size="16" text-anchor="middle" stroke="#000" stroke-width="0.1">6</text>
<text class="n" x="944.40" y="640.51" font-size="16" text-anchor="middle" stroke="#000" stroke-width="0.1">7</text>
<text class="n" x="992.12" y="640.51" font-size="16" text-anchor="middle" stroke="#000" stroke-width="0.1">4</text>
<text class="n" x="1039.83" y="640.51" font-size="16" text-anchor="middle" stroke="#000" stroke-width="0.1">9</text>
<text class="n" x="1087.54" y="640.51" font-size="16" text-anchor="middle" stroke="#000" stroke-width="0.1">8</text>
<text class="n" x="1135.25" y="640.51" font-size="16" text-anchor="middle" stroke="#000" stroke-width="0.1">2</text>
<text class="n" x="1182.96" y="640.51" font-size="16" text-anchor="middle" stroke="#000" stroke-width="0.1">-3</text>
<text class="n" x="1230.66" y="640.51" font-size="16" text-anchor="middle" stroke="#000" stroke-width="0.1">-3</text>
<text class="n" x="1278.38" y="640.51" font-size="16" text-anchor="middle" stroke="#000" stroke-width="0.1">-2</text>
<text class="n" x="1326.09" y="640.51" font-size="16" text-anchor="middle" stroke="#000" stroke-width="0.1">6</text>
<text class="n" x="1373.80" y="640.51" font-size="16" text-anchor="middle" stroke="#000" stroke-width="0.1">7</text>
<text class="n" x="1421.51" y="640.51" font-size="16" text-anchor="middle" stroke="#000" stroke-width="0.1">4</text>
<text class="n" x="1469.22" y="640.51" font-size="16" text-anchor="middle" stroke="#000" stroke-width="0.1">9</text>
<text class="n" x="1516.93" y="640.51" font-size="16" text-anchor="middle" stroke="#000" stroke-width="0.1">8</text>
<text class="n" x="1564.64" y="640.51" font-size="16" text-anchor="middle" stroke="#000" stroke-width="0.1">2</text>
<text class="n" x="1612.35" y="640.51" font-size="16" text-anchor="middle" stroke="#000" stroke-width="0.1">-3</text>
<text class="n" x="1660.06" y="640.51" font-size="16" text-anchor="middle" stroke="#000" stroke-width="0.1">-3</text>
<text class="n" x="228.75" y="667.75" text-anchor="middle" font-size="15" stroke="#000" stroke-width="0.55" dx="0 0.5">1日</text>
<text class="n" x="276.47" y="667.75" text-anchor="middle" font-size="15" stroke="#000" stroke-width="0.55" dx="0 0.5">2日</text>
<text class="n" x="324.18" y="667.75" text-anchor="middle" font-size="15" stroke="#000" stroke-width="0.55" dx="0 0.5">3日</text>
<text class="n" x="371.88" y="667.75" text-anchor="middle" font-size="15" stroke="#000" stroke-width="0.55" dx="0 0.5">4日</text>
<text class="n" x="419.60" y="667.75" text-anchor="middle" font-size="15" stroke="#000" stroke-width="0.55" dx="0 0.5">5日</text>
<text class="n" x="467.31" y="667.75" text-anchor="middle" font-size="15" stroke="#000" stroke-width="0.55" dx="0 0.5">6日</text>
<text class="n" x="515.01" y="667.75" text-anchor="middle" font-size="15" stroke="#000" stroke-width="0.55" dx="0 0.5">7日</text>
<text class="n" x="562.73" y="667.75" text-anchor="middle" font-size="15" stroke="#000" stroke-width="0.55" dx="0 0.5">8日</text>
<text class="n" x="610.44" y="667.75" text-anchor="middle" font-size="15" stroke="#000" stroke-width="0.55" dx="0 0.5">9日</text>
<text class="n" x="658.14" y="667.75" text-anchor="middle" font-size="15" stroke="#000" stroke-width="0.55" dx="0 -0.6 0.3">10日</text>
<text class="n" x="705.86" y="667.75" text-anchor="middle" font-size="15" stroke="#000" stroke-width="0.55" dx="0 -0.6 0.3">11日</text>
<text class="n" x="753.57" y="667.75" text-anchor="middle" font-size="15" stroke="#000" stroke-width="0.55" dx="0 -0.6 0.3">12日</text>
<text class="n" x="801.27" y="667.75" text-anchor="middle" font-size="15" stroke="#000" stroke-width="0.55" dx="0 -0.6 0.3">13日</text>
<text class="n" x="848.99" y="667.75" text-anchor="middle" font-size="15" stroke="#000" stroke-width="0.55" dx="0 -0.6 0.3">14日</text>
<text class="n" x="896.70" y="667.75" text-anchor="middle" font-size="15" stroke="#000" stroke-width="0.55" dx="0 -0.6 0.3">15日</text>
<text class="n" x="944.40" y="667.75" text-anchor="middle" font-size="15" stroke="#000" stroke-width="0.55" dx="0 -0.6 0.3">16日</text>
<text class="n" x="992.12" y="667.75" text-anchor="middle" font-size="15" stroke="#000" stroke-width="0.55" dx="0 -0.6 0.3">17日</text>
<text class="n" x="1039.83" y="667.75" text-anchor="middle" font-size="15" stroke="#000" stroke-width="0.55" dx="0 -0.6 0.3">18日</text>
<text class="n" x="1087.54" y="667.75" text-anchor="middle" font-size="15" stroke="#000" stroke-width="0.55" dx="0 -0.6 0.3">19日</text>
<text class="n" x="1135.25" y="667.75" text-anchor="middle" font-size="15" stroke="#000" stroke-width="0.55" dx="0 -0.6 0.3">20日</text>
<text class="n" x="1182.96" y="667.75" text-anchor="middle" font-size="15" stroke="#000" stroke-width="0.55" dx="0 -0.6 0.3">21日</text>
<text class="n" x="1230.66" y="667.75" text-anchor="middle" font-size="15" stroke="#000" stroke-width="0.55" dx="0 -0.6 0.3">22日</text>
<text class="n" x="1278.38" y="667.75" text-anchor="middle" font-size="15" stroke="#000" stroke-width="0.55" dx="0 -0.6 0.3">23日</text>
<text class="n" x="1326.09" y="667.75" text-anchor="middle" font-size="15" stroke="#000" stroke-width="0.55" dx="0 -0.6 0.3">24日</text>
<text class="n" x="1373.80" y="667.75" text-anchor="middle" font-size="15" stroke="#000" stroke-width="0.55" dx="0 -0.6 0.3">25日</text>
<text class="n" x="1421.51" y="667.75" text-anchor="middle" font-size="15" stroke="#000" stroke-width="0.55" dx="0 -0.6 0.3">26日</text>
<text class="n" x="1469.22" y="667.75" text-anchor="middle" font-size="15" stroke="#000" stroke-width="0.55" dx="0 -0.6 0.3">27日</text>
<text class="n" x="1516.93" y="667.75" text-anchor="middle" font-size="15" stroke="#000" stroke-width="0.55" dx="0 -0.6 0.3">28日</text>
<text class="n" x="1564.64" y="667.75" text-anchor="middle" font-size="15" stroke="#000" stroke-width="0.55" dx="0 -0.6 0.3">29日</text>
<text class="n" x="1612.35" y="667.75" text-anchor="middle" font-size="15" stroke="#000" stroke-width="0.55" dx="0 -0.6 0.3">30日</text>
<text class="n" x="1660.06" y="667.75" text-anchor="middle" font-size="15" stroke="#000" stroke-width="0.55" dx="0 -0.6 0.3">31日</text>
<text transform="matrix(1.0132 0 0 0.9647 155.59 221.64)" font-size="18.5" stroke="#000" stroke-width="0.1">非売品</text>
<text transform="matrix(0.9932 0 0 0.9000 128.01 250.80)" font-size="18.5" stroke="#000" stroke-width="0.1" dx="0 -0.53 -0.53 1.14 0.53 0.53">サイト掲載用</text>
<text transform="matrix(1.0072 0 0 0.9647 136.91 280.94)" font-size="18.5" stroke="#000" stroke-width="0.1">「無料版」</text>
<text transform="matrix(1.0060 0 0 0.9692 261.79 242.19)" font-size="27.5" font-weight="bold" fill="#fff">本命星／四緑木星</text>
<text transform="matrix(0.9712 0 0 1.0028 604.63 245.99)" font-size="38" font-weight="bold" fill="#ff0000" dx="0 -0.84 -0.84 -0.84 0.99 0 2.76 0.74">2026年 5月</text>
<text transform="matrix(1.0868 0 0 1.0515 965.19 247.00)" font-size="38" font-weight="bold" fill="#ff0000" dx="0 -10.76 -7.76 -2.63 -5.63 -3.39 -8.74">ラッキーグラフ</text>
<text transform="matrix(0.9738 0 0 0.9609 1392.27 240.12)" font-size="23" font-weight="bold" fill="#44546a" dx="0 0.24 0.24 0.24 0.24 0.24 -7.32 -0.3 -0.3 -0.3 -0.3">「良品購入」確率データ</text>
<text transform="matrix(1.0185 0 0 1.0143 1438.78 279.89)" font-size="15.5" stroke="#000" stroke-width="0.1" dx="0 1.27 1.27 1.27 -0.53 -0.42 -0.42 -0.42 -0.42 -0.42 -0.42 -0.42 -0.42 -0.42">発行者／MIKU RIONA</text>
<text transform="matrix(1.0005 0 0 1.0000 577.25 280.00)" font-size="16" fill="#ff0000" stroke="#ff0000" stroke-width="0.2" dx="0 1.35 -2.61 -2.61 -1.7 0.79 0.79 0 -2.51 0.75 1.14 1.14 1.4 0 -2.61 0.75 0.75 0.75 0.75 0.75 0 -2.11 0.75 1.14 1.14 1.4 0 -2.86 -0.37 -0.37 -0.37 -0.37 -0.37 -0.37 -0.37 -0.37 -0.37 -0.37 -0.37 -0.37 -0.37 0 7.22 -0.85 0.33 0.33 0.33 0.33 0.33 0.33 0.33 0.33 0.33 0.33 0.33 0.33 0.33 0.33 0.33 0.33 0.33 0.33 0.33 0.33 0.33 -0.32">※サイト掲載用 「非売品」　無断転載禁止 「無料版」 MIKU RIONA LOG ＜https://miku-vlog7.com＞</text>
<text transform="matrix(0.8853 0 0 0.9833 115.43 533.12)" font-size="14" fill="#ff0000" stroke="#ff0000" stroke-width="0.25">ラッキーレベル</text>
<text transform="matrix(0.8853 0 0 0.9833 115.43 612.72)" font-size="14" fill="#ff0000" stroke="#ff0000" stroke-width="0.25">ラッキーレベル</text>
<text transform="matrix(0.9449 0 0 0.8529 136.06 643.99)" font-size="17" fill="#ff0000" stroke="#ff0000" stroke-width="0.6">買い物</text>
<text transform="matrix(0.9490 0 0 0.9438 135.80 662.61)" font-size="17" fill="#ff0000" stroke="#ff0000" stroke-width="0.6">総合運</text>
<text transform="matrix(1.0116 0 0 0.8913 123.89 738.13)" font-size="24" stroke="#000" stroke-width="0.55">好調期</text>
<text transform="matrix(1.0145 0 0 0.9435 123.89 847.67)" font-size="24" stroke="#000" stroke-width="0.55">安定期</text>
<text transform="matrix(0.9943 0 0 0.9435 125.30 956.57)" font-size="24" stroke="#000" stroke-width="0.55">低迷期</text>
<text transform="matrix(1.0021 0 0 0.9000 150.70 1046.40)" font-size="24.6" fill="#1c1c1c" class="rf" dx="0 -0.02 -0.02 -0.6"><tspan fill="#ff0000">好調期</tspan>／お買い物チャンスの時期！良い商品のご縁、お買い得品の確率アップ</text>
<text transform="matrix(1.0005 0 0 0.9000 150.70 1073.45)" font-size="24.6" fill="#1c1c1c" class="rf" dx="0 0.03 0.03 -0.6"><tspan fill="#00b050">安定期</tspan>／比較的に良いお買い物ができる時期。高価なものは慎重に検討</text>
<text transform="matrix(1.0009 0 0 0.9000 151.70 1099.10)" font-size="24.6" fill="#1c1c1c" class="rf" dx="0 -0.48 -0.48 -0.6 0.03 0.03 0.03 0.03 0.03 0.03 0.03 0.03 0.03 0.03 0.03 0.03 0.03 0.03 0.03 0.03 0.03 0.03 0.03 0.03 0.03 0.03 0.03 0.03 0.03 0.03 0.03 0.03 0.03 0.03 0.03 1.08"><tspan fill="#0070c0">低迷期</tspan>／お買い物は控えた方が良い時期。次回購入検討、候補リストの登録は<tspan textLength="21.52" lengthAdjust="spacingAndGlyphs">OK</tspan></text>
<text transform="matrix(1.0180 0 0 0.9500 1077.46 1041.00)" font-size="21" stroke="#000" stroke-width="0.1" dx="0 1.52 -0.18 -0.18 -0.18 -0.18 -0.18 0 0 2.73 -0.12 -0.12 -0.12 -0.12 -0.12 -0.12 -0.12 -0.12 -0.12 -0.12 -0.12 -0.12 -0.12 -0.12 -0.12 -0.12 -0.12 -0.12 -0.12 -0.12 -0.12 0 -4.56 0.98 -1.23 -1.23 0.2 -5.99 1.08 -0.33 -0.33 0.08"><tspan stroke="#000" stroke-width="0.25">※</tspan><tspan stroke="#000" stroke-width="0.25">無断転載禁止</tspan>  https://miku-vlog7.com （無料版）（非売品）</text>
<text transform="matrix(1.0567 0 0 0.9615 1240.76 1069.60)" font-size="18" stroke="#000" stroke-width="0.1" dx="0 2.15 0.29 0.29 0.29 0.29 0.29 0.29 0.29 0.29 0.29 0.29 0.29 0.29 0.29 0.88 0 0.34 -0.01 -0.01 1.28 -1.36 -1.36">「MIKU RIONA LOG」 webサイト</text>
<text transform="matrix(1.0045 0 0 1.0000 1068.20 1090.90)" font-size="15.5" fill="#ff0000" stroke="#ff0000" stroke-width="0.35" dx="0 0.09 0.09 0.09 0.09 0.09 0.09 0.09 0.09 -6.53 -0.4 -0.4 -0.4 -0.4 -6.32 0.7 0.7 0.7 -7.22 0.43 0.43 0.43 0.43 0.43 -2.62 1.66 1.66 -6.23 -0.32 -0.32 -0.32 -0.32 -0.32 -0.32 -9.01 -0.68 -0.68 -0.68 -0.68 -0.68 -0.68 -0.68">※当サイトの内容、テキスト、画像等の「無断転載・使用、許可なく販売」を固く禁じます。</text>
<text transform="matrix(1.0061 0 0 1.0000 1082.29 1110.00)" font-size="15.5" fill="#ff0000" stroke="#ff0000" stroke-width="0.35" dx="0 1.64 1.64 -10.02 -0.28 -0.28 -0.28 -0.28 -0.28 -0.28 -0.28 -0.28 -0.28 -0.28 -0.28 -0.28 -0.28 -0.28 -0.28 -0.28 -0.28 0 0.49 0.18 0.18 0.18 0.18 0.18 0.18 0.18 0.18">また、まとめサイト等への引用を厳禁致します 「非売品・無料版」</text>
</svg>
</body>
</html>
